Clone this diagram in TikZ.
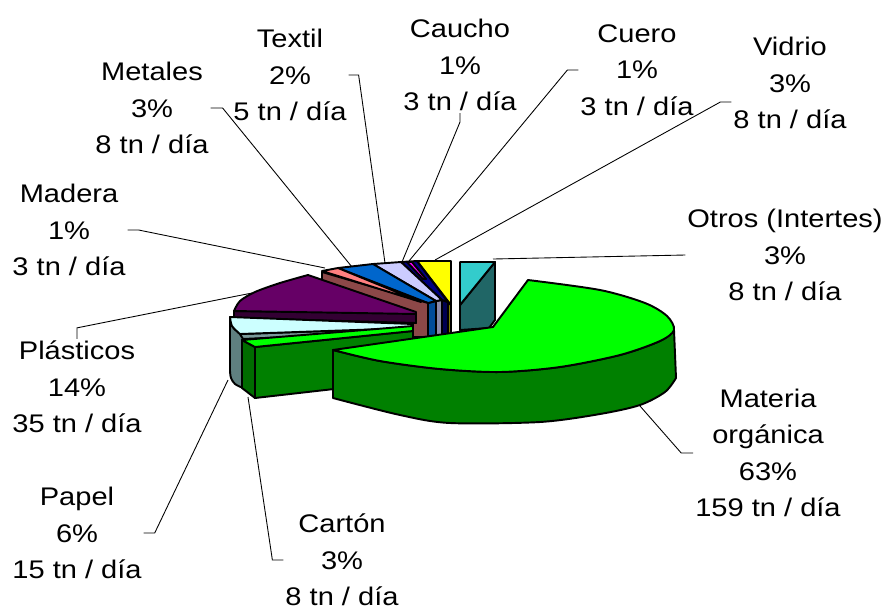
\documentclass[tikz,border=0pt]{standalone}
\usepackage{fontspec}
\setmainfont[FakeStretch=1.14]{Liberation Sans}

\definecolor{orgtop}{HTML}{00FF00}
\definecolor{orgside}{HTML}{008000}
\definecolor{cartonleft}{HTML}{006C00}
\definecolor{otrostop}{HTML}{33CCCC}
\definecolor{otrosside}{HTML}{206666}
\definecolor{vidriotop}{HTML}{FFFF00}
\definecolor{vidrioside}{HTML}{808000}
\definecolor{cuerotop}{HTML}{FF00FF}
\definecolor{cauchotop}{HTML}{000080}
\definecolor{cauchoside}{HTML}{000050}
\definecolor{textiltop}{HTML}{CCCCFF}
\definecolor{textilside}{HTML}{8A8AAA}
\definecolor{metalestop}{HTML}{0066CC}
\definecolor{metalesside}{HTML}{004C99}
\definecolor{maderatop}{HTML}{FF8080}
\definecolor{maderaside}{HTML}{8C4848}
\definecolor{plasttop}{HTML}{660066}
\definecolor{plastside}{HTML}{330033}
\definecolor{papeltop}{HTML}{CCFFFF}
\definecolor{papelside}{HTML}{5F8080}
\definecolor{papelstrip}{HTML}{7A9A9A}

\tikzset{
  slice/.style={draw=black, line width=1.1pt, line join=round},
  leader/.style={draw=black, line width=0.5pt},
  lbl/.style={align=center, inner sep=1pt, font=\fontsize{14.5}{20.8}\selectfont}
}

\begin{document}
\begin{tikzpicture}[x=0.02cm, y=-0.02cm]
		%%%%% START %%%%%
		\useasboundingbox (0,0) rectangle (887,610);
		
		% labels
		\node[lbl] (lbltextil) at (290,75) {Textil\\2\%\\5 tn / día};
		\node[lbl] (lblmetales) at (152,108) {Metales\\3\%\\8 tn / día};
		\node[lbl] (lblmadera) at (69,230) {Madera\\1\%\\3 tn / día};
		\node[lbl] (lblcaucho) at (460,65) {Caucho\\1\%\\3 tn / día};
		\node[lbl] (lblcuero) at (637,70) {Cuero\\1\%\\3 tn / día};
		\node[lbl] (lblvidrio) at (790,83) {Vidrio\\3\%\\8 tn / día};
		\node[lbl] (lblotros) at (785,255) {Otros (Intertes)\\3\%\\8 tn / día};
		\node[lbl] (lblmateria) at (768,453) {Materia\\orgánica\\63\%\\159 tn / día};
		\node[lbl] (lblplast) at (77,387) {Plásticos\\14\%\\35 tn / día};
		\node[lbl] (lblpapel) at (77,533) {Papel\\6\%\\15 tn / día};
		\node[lbl] (lblcarton) at (342,560) {Cartón\\3\%\\8 tn / día};
		
		% where the leaders touch the pie
		\coordinate (ptextil) at (385,263);
		\coordinate (pmetales) at (352,267);
		\coordinate (pmadera) at (325,268);
		\coordinate (pcaucho) at (402,262);
		\coordinate (pcuero) at (409,261);
		\coordinate (pvidrio) at (435,260);
		\coordinate (potros) at (493,259);
		\coordinate (pmateria) at (640,406);
		\coordinate (pplast) at (252,293);
		\coordinate (ppapel) at (228,380);
		\coordinate (pcarton) at (248,397);
		
		\draw[leader] (lbltextil.east) -- ++(10,0) -- (ptextil);
		\draw[leader] (lblmetales.east) -- ++(12,0) -- (pmetales);
		\draw[leader] (lblmadera.east) -- ++(11,0) -- (pmadera);
		\draw[leader] (lblcaucho.south) -- ++(0,9) -- (pcaucho);
		\draw[leader] (lblcuero.west) -- ++(-11,0) -- (pcuero);
		\draw[leader] ([yshift=-0.38cm]lblvidrio.west) -- ++(-11,0) -- (pvidrio);
		\draw[leader] (lblotros.west) -- (potros);
		\draw[leader] (lblmateria.west) -- ++(-12,0) -- (pmateria);
		\draw[leader] (lblplast.north) -- ++(0,-11) -- (pplast);
		\draw[leader] (lblpapel.east) -- ++(11,0) -- (ppapel);
		\draw[leader] (lblcarton.west) -- ++(-11,0) -- (pcarton);
		
		% back slices
		\draw[slice, fill=otrosside] (495,262) -- (495,320) -- (489,328) -- (460,330) -- (460,305) -- cycle;
		\draw[slice, fill=otrostop] (460,262) -- (495,262) -- (460,305) -- cycle;
		
		\draw[slice, fill=vidrioside] (448,302) -- (451,305) -- (451,336) -- (448,336) -- cycle;
		\draw[slice, fill=vidriotop] (417,261) -- (451,261) -- (451,305) -- cycle;
		
		\draw[slice, fill=cauchoside] (442,300) -- (448,302) -- (448,336) -- (442,336) -- cycle;
		\draw[slice, fill=cauchotop] (401,262) -- (417,261) -- (448,302) -- (442,300) -- cycle;
		\draw[slice, fill=cuerotop] (407,262) -- (412,262) -- (426,279) -- (423,279) -- cycle;
		
		\draw[slice, fill=textilside] (436,301) -- (442,300) -- (442,336) -- (436,337) -- cycle;
		\draw[slice, fill=textiltop] (373,264) -- (401,262) -- (442,300) -- (436,301) -- cycle;
		
		\draw[slice, fill=metalesside] (428,303) -- (436,301) -- (436,337) -- (428,337) -- cycle;
		\draw[slice, fill=metalestop] (338,268) -- (373,264) -- (436,301) -- (428,303) -- cycle;
		
		\draw[slice, fill=maderaside] (322,272) -- (428,303) -- (428,337) -- (413,337) -- (413,320) -- (322,284) -- cycle;
		\draw[slice, fill=maderatop] (322,271) -- (338,268) -- (421,302) -- cycle;
		
		% plasticos
		\draw[slice, fill=plastside] (234,311) -- (416,313) -- (416,323) -- (234,318) -- cycle;
		\draw[slice, fill=plasttop] plot[smooth] coordinates {(234,311) (240,301) (255,292) (280,283) (308,275)} -- (416,312) -- (416,314) -- cycle;
		
		% papel
		\draw[slice, fill=papelside] plot[smooth] coordinates {(230,317) (232,326) (240,334)} -- (243,338) -- (243,388) -- plot[smooth] coordinates {(243,388) (235,384) (231,378) (230,371)} -- cycle;
		\draw[slice, fill=papelstrip] (240,334) -- (413,328) -- (413,331) -- (243,339) -- cycle;
		\draw[slice, fill=papeltop] plot[smooth] coordinates {(230,317) (232,326) (240,334)} -- (413,328) -- (413,324) -- cycle;
		
		% carton
		\draw[slice, fill=cartonleft] (242,340) -- (255,347) -- (255,398) -- (242,388) -- cycle;
		\draw[slice, fill=orgside] (255,347) -- (413,331) -- (413,380) -- (255,398) -- cycle;
		\draw[slice, fill=orgtop] (242,340) -- (413,326) -- (413,331) -- (255,347) -- cycle;
		
		% materia organica (pulled out)
		\draw[slice, fill=orgside] plot[smooth] coordinates {(674,330) (660,341) (620,355) (560,367) (500,372) (440,369) (380,361) (333,350)} -- (333,398) -- plot[smooth] coordinates {(333,398) (400,415) (450,423) (540,422) (600,414) (640,405) (665,392) (676,378)} -- cycle;
		\draw[slice, fill=orgtop] (493,327) -- (528,280) -- plot[smooth] coordinates {(528,280) (600,290) (645,303) (667,316) (674,330) (660,341) (620,355) (560,367) (500,372) (440,369) (380,361) (333,350)} -- cycle;
		
		%%%%% END %%%%%
\end{tikzpicture}
\end{document}
